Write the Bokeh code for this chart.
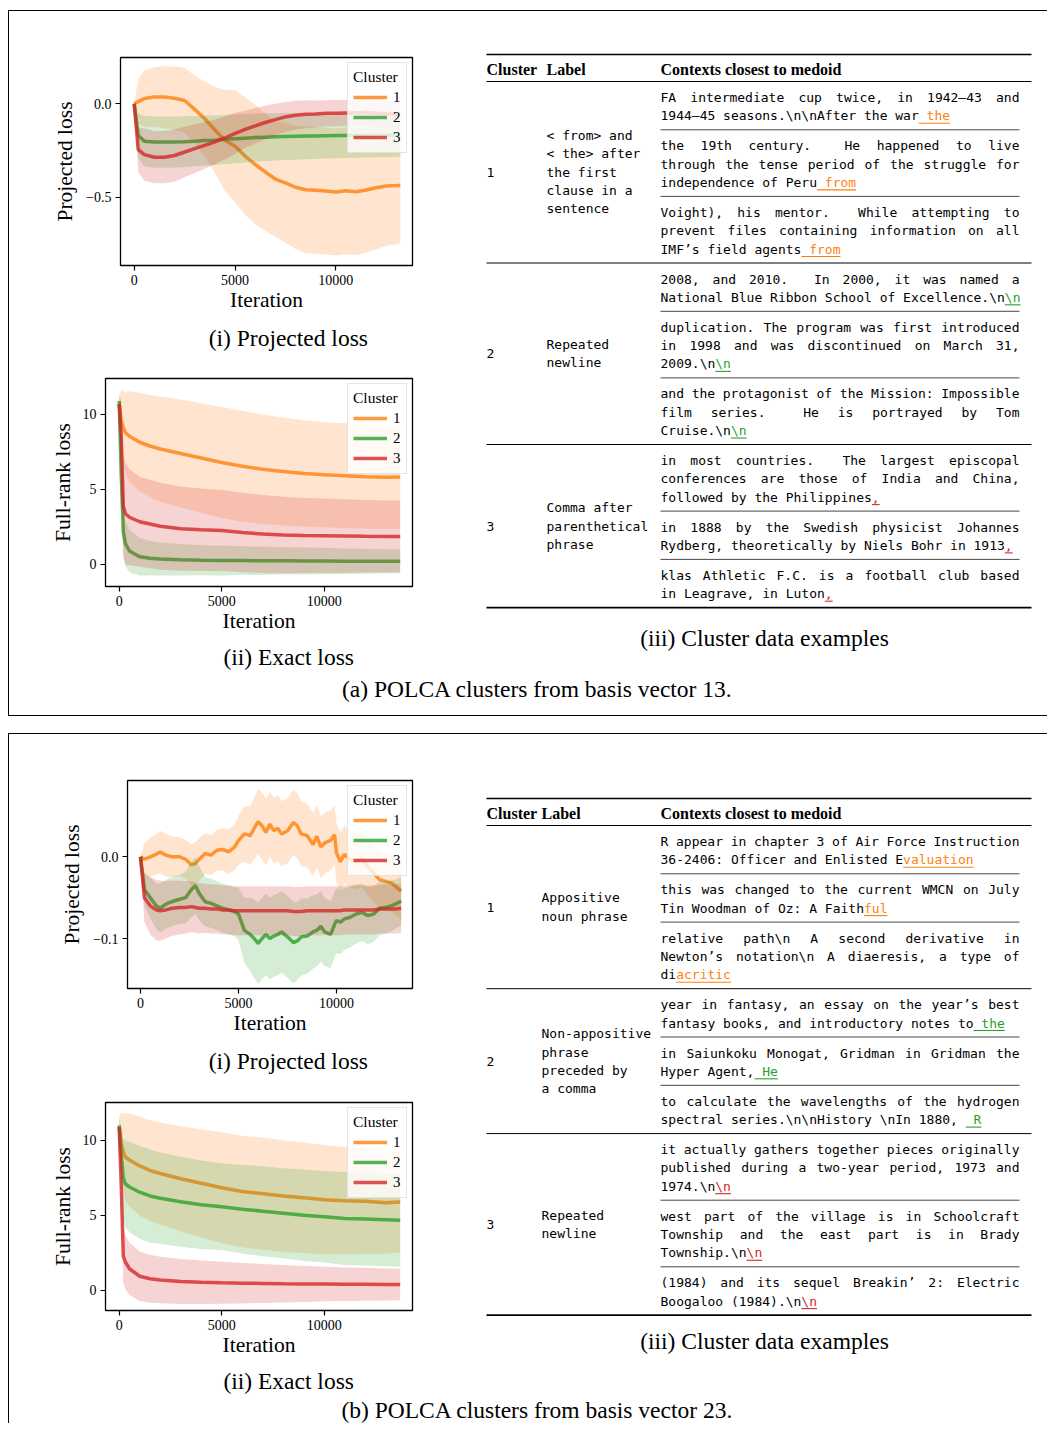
import numpy as np
from bokeh.plotting import figure
from bokeh.models import Range1d, FixedTicker, Legend, LegendItem, Spacer, ColumnDataSource
from bokeh.layouts import column, row
from bokeh.embed import file_html
from bokeh.resources import INLINE
from bokeh.core.properties import value

SERIF = "Liberation Serif"
MONO = "DejaVu Sans Mono"
CLUSTERS = ["1", "2", "3"]
COLORS = ["#ff7f0e", "#2ca02c", "#d62728"]

# ---------------- (a) basis vector 13 : projected loss ----------------
A1_ITER = [0, 200, 500, 1000, 1500, 2000, 2500, 3000, 3500, 4000,
           4500, 5000, 5500, 6000, 6500, 7000, 7500, 8000, 8500, 9000,
           9500, 10000, 10500, 11000, 11500, 12000, 12500, 13000, 13200]
A1_MEAN_1 = [0.0, 0.012, 0.028, 0.036, 0.036, 0.03, 0.018, -0.03, -0.08, -0.14,
             -0.195, -0.227, -0.28, -0.325, -0.365, -0.403, -0.423, -0.447, -0.46, -0.463,
             -0.467, -0.472, -0.466, -0.471, -0.462, -0.45, -0.44, -0.438, -0.437]
A1_SPREAD_1 = [0.0, 0.12, 0.15, 0.16, 0.165, 0.17, 0.175, 0.18, 0.2, 0.23,
               0.27, 0.3, 0.315, 0.32, 0.315, 0.31, 0.32, 0.33, 0.34, 0.34,
               0.34, 0.34, 0.34, 0.34, 0.335, 0.33, 0.32, 0.315, 0.31]
A1_MEAN_2 = [0.0, -0.17, -0.2, -0.205, -0.205, -0.205, -0.203, -0.2, -0.197, -0.195,
             -0.19, -0.187, -0.184, -0.181, -0.179, -0.177, -0.175, -0.174, -0.173, -0.172,
             -0.171, -0.17, -0.17, -0.17, -0.17, -0.169, -0.169, -0.169, -0.169]
A1_SPREAD_2 = [0.0, 0.12, 0.135, 0.137, 0.137, 0.137, 0.136, 0.135, 0.134, 0.133,
               0.132, 0.131, 0.13, 0.129, 0.128, 0.127, 0.126, 0.125, 0.124, 0.123,
               0.122, 0.121, 0.12, 0.119, 0.118, 0.117, 0.116, 0.115, 0.115]
A1_MEAN_3 = [0.0, -0.245, -0.272, -0.286, -0.286, -0.277, -0.258, -0.24, -0.223, -0.204,
             -0.183, -0.158, -0.137, -0.118, -0.1, -0.085, -0.07, -0.061, -0.056, -0.054,
             -0.051, -0.05, -0.049, -0.048, -0.047, -0.05, -0.053, -0.056, -0.057]
A1_SPREAD_3 = [0.0, 0.12, 0.14, 0.14, 0.14, 0.14, 0.135, 0.13, 0.125, 0.12,
               0.115, 0.11, 0.1, 0.095, 0.09, 0.085, 0.08, 0.078, 0.075, 0.072,
               0.07, 0.07, 0.07, 0.07, 0.07, 0.07, 0.07, 0.07, 0.07]

# ---------------- (a) basis vector 13 : exact loss ----------------
A2_ITER = [0, 100, 200, 300, 500, 1000, 1500, 2000, 3000, 4000,
           5000, 6000, 7000, 8000, 9000, 10000, 11000, 12000, 13000, 13700]
A2_MEAN_1 = [10.7, 9.6, 9.1, 8.8, 8.55, 8.15, 7.9, 7.7, 7.4, 7.1,
             6.8, 6.55, 6.35, 6.2, 6.06, 5.98, 5.92, 5.85, 5.82, 5.83]
A2_SPREAD_1 = [0.6, 2.0, 2.5, 2.7, 3.0, 3.3, 3.4, 3.5, 3.6, 3.65,
               3.7, 3.7, 3.65, 3.6, 3.55, 3.5, 3.5, 3.45, 3.45, 3.45]
A2_MEAN_2 = [10.9, 6.0, 2.2, 1.4, 0.9, 0.52, 0.42, 0.36, 0.31, 0.28,
             0.27, 0.26, 0.25, 0.25, 0.24, 0.23, 0.22, 0.22, 0.22, 0.22]
A2_SPREAD_2 = [0.3, 1.5, 1.6, 1.5, 1.4, 1.25, 1.15, 1.1, 1.05, 1.0,
               1.0, 0.95, 0.95, 0.9, 0.9, 0.88, 0.85, 0.83, 0.8, 0.8]
A2_MEAN_3 = [10.7, 8.5, 3.9, 3.4, 3.15, 2.85, 2.7, 2.55, 2.38, 2.32,
             2.27, 2.13, 2.03, 1.97, 1.93, 1.92, 1.9, 1.88, 1.87, 1.87]
A2_SPREAD_3 = [0.5, 2.5, 3.4, 3.4, 3.2, 3.0, 2.95, 2.9, 2.8, 2.75,
               2.7, 2.65, 2.6, 2.55, 2.5, 2.48, 2.45, 2.42, 2.4, 2.4]

# ---------------- (b) basis vector 23 : projected loss ----------------
B1_ITER = [0, 200, 500, 800, 1000, 1300, 1600, 2000, 2300, 2600,
           2800, 3000, 3300, 3600, 3900, 4200, 4500, 4800, 5000, 5300,
           5600, 5800, 6000, 6200, 6400, 6600, 6800, 7000, 7200, 7500,
           7800, 8000, 8200, 8500, 8800, 9000, 9200, 9400, 9700, 9900,
           10000, 10200, 10400, 10700, 11000, 11300, 11600, 11900, 12200, 12500,
           12800, 13000, 13300]
B1_MEAN_1 = [0.0, -0.003, 0.0, 0.003, 0.006, 0.002, 0.0, 0.0, -0.003, -0.01,
             -0.008, -0.003, 0.004, 0.002, 0.008, 0.009, 0.006, 0.012, 0.02, 0.028,
             0.026, 0.035, 0.043, 0.038, 0.03, 0.04, 0.032, 0.035, 0.028, 0.032,
             0.042, 0.038, 0.028, 0.026, 0.015, 0.025, 0.012, 0.017, 0.02, 0.027,
             0.005, -0.006, 0.003, -0.003, -0.005, -0.002, -0.012, -0.02, -0.028, -0.03,
             -0.032, -0.036, -0.042]
B1_SPREAD_1 = [0.0, 0.02, 0.024, 0.025, 0.026, 0.026, 0.025, 0.024, 0.024, 0.025,
               0.026, 0.026, 0.025, 0.024, 0.025, 0.026, 0.027, 0.028, 0.03, 0.034,
               0.036, 0.038, 0.04, 0.041, 0.041, 0.04, 0.04, 0.04, 0.04, 0.04,
               0.04, 0.04, 0.04, 0.039, 0.039, 0.038, 0.038, 0.037, 0.037, 0.036,
               0.036, 0.036, 0.035, 0.035, 0.035, 0.035, 0.035, 0.035, 0.035, 0.035,
               0.035, 0.035, 0.035]
B1_MEAN_2 = [0.0, -0.04, -0.05, -0.06, -0.063, -0.058, -0.055, -0.052, -0.05, -0.04,
             -0.035, -0.045, -0.055, -0.057, -0.06, -0.063, -0.065, -0.067, -0.07, -0.09,
             -0.095, -0.1, -0.106, -0.1, -0.095, -0.1, -0.097, -0.095, -0.092, -0.098,
             -0.105, -0.103, -0.098, -0.097, -0.092, -0.09, -0.085, -0.092, -0.095, -0.083,
             -0.078, -0.08, -0.076, -0.074, -0.07, -0.068, -0.072, -0.07, -0.063, -0.062,
             -0.06, -0.058, -0.054]
B1_SPREAD_2 = [0.0, 0.02, 0.025, 0.028, 0.03, 0.03, 0.03, 0.03, 0.032, 0.034,
               0.035, 0.033, 0.03, 0.03, 0.03, 0.03, 0.03, 0.03, 0.032, 0.04,
               0.045, 0.048, 0.05, 0.05, 0.05, 0.05, 0.05, 0.05, 0.05, 0.05,
               0.05, 0.048, 0.047, 0.046, 0.045, 0.044, 0.043, 0.042, 0.041, 0.04,
               0.04, 0.039, 0.038, 0.037, 0.036, 0.035, 0.035, 0.034, 0.033, 0.032,
               0.031, 0.03, 0.03]
B1_MEAN_3 = [0.0, -0.05, -0.06, -0.065, -0.066, -0.065, -0.063, -0.062, -0.062, -0.061,
             -0.062, -0.063, -0.063, -0.064, -0.064, -0.065, -0.065, -0.066, -0.066, -0.066,
             -0.066, -0.066, -0.066, -0.066, -0.066, -0.066, -0.066, -0.066, -0.066, -0.066,
             -0.067, -0.067, -0.067, -0.066, -0.066, -0.066, -0.066, -0.066, -0.066, -0.066,
             -0.066, -0.066, -0.065, -0.065, -0.065, -0.065, -0.065, -0.065, -0.064, -0.064,
             -0.064, -0.064, -0.063]
B1_SPREAD_3 = [0.0, 0.03, 0.035, 0.037, 0.037, 0.035, 0.034, 0.033, 0.032, 0.031,
               0.031, 0.031, 0.03, 0.03, 0.03, 0.03, 0.03, 0.03, 0.03, 0.03,
               0.03, 0.03, 0.03, 0.03, 0.03, 0.03, 0.03, 0.03, 0.03, 0.03,
               0.03, 0.03, 0.03, 0.03, 0.03, 0.03, 0.03, 0.03, 0.03, 0.03,
               0.03, 0.03, 0.03, 0.03, 0.03, 0.03, 0.03, 0.03, 0.03, 0.03,
               0.03, 0.03, 0.03]

# ---------------- (b) basis vector 23 : exact loss ----------------
B2_ITER = [0, 100, 200, 300, 500, 1000, 1500, 2000, 3000, 4000,
           5000, 6000, 7000, 8000, 9000, 10000, 11000, 12000, 13000, 13700]
B2_MEAN_1 = [10.9, 9.8, 9.2, 8.9, 8.7, 8.3, 8.0, 7.8, 7.45, 7.15,
             6.85, 6.6, 6.45, 6.3, 6.18, 6.05, 5.98, 5.95, 5.85, 5.9]
B2_SPREAD_1 = [0.6, 2.1, 2.6, 2.9, 3.1, 3.3, 3.35, 3.4, 3.5, 3.6,
               3.7, 3.72, 3.73, 3.72, 3.68, 3.64, 3.58, 3.5, 3.4, 3.35]
B2_MEAN_2 = [11.0, 9.0, 7.5, 7.1, 6.9, 6.55, 6.3, 6.15, 5.92, 5.72,
             5.58, 5.42, 5.28, 5.15, 5.02, 4.92, 4.8, 4.76, 4.72, 4.69]
B2_SPREAD_2 = [0.5, 2.0, 2.6, 2.9, 3.0, 3.1, 3.1, 3.05, 3.0, 2.95,
               2.9, 2.95, 3.0, 3.0, 3.05, 3.05, 3.1, 3.1, 3.1, 3.1]
B2_MEAN_3 = [10.9, 7.0, 2.3, 1.9, 1.45, 0.95, 0.78, 0.7, 0.6, 0.55,
             0.51, 0.49, 0.47, 0.45, 0.44, 0.43, 0.42, 0.41, 0.4, 0.4]
B2_SPREAD_3 = [0.5, 1.5, 1.8, 1.8, 1.75, 1.65, 1.6, 1.55, 1.5, 1.45,
               1.4, 1.35, 1.3, 1.25, 1.2, 1.15, 1.12, 1.1, 1.07, 1.05]

X_TICKS = [0, 5000, 10000]

# ---------------- tables ----------------
TABLE_HEADER = ["Cluster", "Label", "Contexts closest to medoid"]
TABLE_A_NUMS = ["1", "2", "3"]
TABLE_A_LABELS = [["< from> and", "< the> after", "the first", "clause in a", "sentence"],
                  ["Repeated", "newline"],
                  ["Comma after", "parenthetical", "phrase"]]
TABLE_A_CONTEXTS = [
    [(["FA intermediate cup twice, in 1942\u201343 and", "1944\u201345 seasons.\\n\\nAfter the war"], " the"),
     (["the 19th century.  He happened to live", "through the tense period of the struggle for",
       "independence of Peru"], " from"),
     (["Voight), his mentor.  While attempting to", "prevent files containing information on all",
       "IMF\u2019s field agents"], " from")],
    [(["2008, and 2010.  In 2000, it was named a", "National Blue Ribbon School of Excellence.\\n"], "\\n"),
     (["duplication. The program was first introduced", "in 1998 and was discontinued on March 31,",
       "2009.\\n"], "\\n"),
     (["and the protagonist of the Mission: Impossible", "film series.  He is portrayed by Tom",
       "Cruise.\\n"], "\\n")],
    [(["in most countries.  The largest episcopal", "conferences are those of India and China,",
       "followed by the Philippines"], ","),
     (["in 1888 by the Swedish physicist Johannes", "Rydberg, theoretically by Niels Bohr in 1913"], ","),
     (["klas Athletic F.C. is a football club based", "in Leagrave, in Luton"], ",")],
]
TABLE_B_NUMS = ["1", "2", "3"]
TABLE_B_LABELS = [["Appositive", "noun phrase"],
                  ["Non-appositive", "phrase", "preceded by", "a comma"],
                  ["Repeated", "newline"]]
TABLE_B_CONTEXTS = [
    [(["R appear in chapter 3 of Air Force Instruction", "36-2406: Officer and Enlisted E"], "valuation"),
     (["this was changed to the current WMCN on July", "Tin Woodman of Oz: A Faith"], "ful"),
     (["relative path\\n A second derivative in", "Newton\u2019s notation\\n A diaeresis, a type of",
       "di"], "acritic")],
    [(["year in fantasy, an essay on the year\u2019s best", "fantasy books, and introductory notes to"], " the"),
     (["in Saiunkoku Monogat, Gridman in Gridman the", "Hyper Agent,"], " He"),
     (["to calculate the wavelengths of the hydrogen", "spectral series.\\n\\nHistory \\nIn 1880, "], " R")],
    [(["it actually gathers together pieces originally", "published during a two-year period, 1973 and",
       "1974.\\n"], "\\n"),
     (["west part of the village is in Schoolcraft", "Township and the east part is in Brady",
       "Township.\\n"], "\\n"),
     (["(1984) and its sequel Breakin\u2019 2: Electric", "Boogaloo (1984).\\n"], "\\n")],
]

CAPTIONS = ["(i) Projected loss", "(ii) Exact loss", "(iii) Cluster data examples",
            "(a) POLCA clusters from basis vector 13.", "(b) POLCA clusters from basis vector 23."]


def loss_fig(width, height, mbl, mbt, fw, fh, xr, yr, yticks, ylabels, ylabel,
             iters, means, spreads, y_std=5):
    p = figure(width=width, height=height, x_range=Range1d(*xr), y_range=Range1d(*yr),
               toolbar_location=None, output_backend="svg",
               min_border_left=mbl, min_border_top=mbt,
               min_border_right=width - mbl - fw, min_border_bottom=height - mbt - fh)
    p.background_fill_color = "white"
    p.border_fill_color = "white"
    rs = []
    for k in range(3):
        m = np.array(means[k], dtype=float)
        s = np.array(spreads[k], dtype=float)
        src = ColumnDataSource(dict(x=iters, lo=m - s, hi=m + s, m=m))
        p.varea(x="x", y1="lo", y2="hi", source=src, fill_color=COLORS[k], fill_alpha=0.2)
        rs.append(p.line(x="x", y="m", source=src, line_color=COLORS[k],
                         line_width=3.5, line_alpha=0.8))
    p.grid.visible = False
    p.outline_line_color = "black"
    p.outline_line_width = 1.3
    p.outline_line_alpha = 1.0
    p.xaxis.ticker = FixedTicker(ticks=X_TICKS)
    p.yaxis.ticker = FixedTicker(ticks=yticks)
    p.yaxis.major_label_overrides = dict(zip(yticks, ylabels))
    for ax in (p.xaxis[0], p.yaxis[0]):
        ax.axis_line_color = None
        ax.major_tick_line_color = "black"
        ax.major_tick_line_width = 1.2
        ax.major_tick_out = 5
        ax.major_tick_in = 0
        ax.minor_tick_line_color = None
        ax.major_label_text_font = SERIF
        ax.major_label_text_font_size = "14px"
        ax.major_label_text_color = "black"
        ax.major_label_standoff = 4
        ax.axis_label_text_font = SERIF
        ax.axis_label_text_font_size = "21.5px"
        ax.axis_label_text_font_style = "normal"
        ax.axis_label_text_color = "black"
    p.xaxis.axis_label = "Iteration"
    p.xaxis.axis_label_standoff = 0
    p.yaxis.axis_label = ylabel
    p.yaxis.axis_label_standoff = y_std
    legend = Legend(items=[LegendItem(label=CLUSTERS[k], renderers=[rs[k]]) for k in range(3)],
                    location="top_right", title="Cluster")
    legend.title_text_font = SERIF
    legend.title_text_font_size = "15.5px"
    legend.title_text_font_style = "normal"
    legend.title_text_color = "black"
    legend.title_standoff = 1
    legend.label_text_font = SERIF
    legend.label_text_font_size = "15px"
    legend.label_text_color = "black"
    legend.glyph_width = 34
    legend.glyph_height = 20
    legend.label_height = 20
    legend.label_width = 8
    legend.label_standoff = 6
    legend.spacing = 0
    legend.padding = 5
    legend.margin = 5
    legend.border_line_color = "#cccccc"
    legend.border_line_width = 1
    legend.background_fill_alpha = 0.8
    p.add_layout(legend)
    return p


def canvas(w, h):
    p = figure(width=w, height=h, x_range=Range1d(0, w), y_range=Range1d(h, 0),
               toolbar_location=None, output_backend="svg", min_border=0,
               x_axis_type=None, y_axis_type=None)
    p.outline_line_color = None
    p.grid.visible = False
    p.background_fill_color = "white"
    p.border_fill_color = "white"
    return p


def caption_fig(w, h, x, y, s):
    p = canvas(w, h)
    p.text(x=[x], y=[y], text=[s], text_font=value(SERIF), text_font_size="23.5px",
           text_align="center", text_baseline="middle", text_color="black")
    return p


def table_fig(ox, oy, w, h, header_rule, label_x, nums, labels, contexts, caption_y):
    p = canvas(w, h)
    X_NUM, X_CTX, X_END, X_L, X_R = 486, 660, 1019, 486, 1031
    CW = 13 * 0.602
    LH, FIRST, BLK = 18.3, 16.0, 48.3
    tx, ty, tt, tc = [], [], [], []

    def put(x, y, s, c="black"):
        tx.append(x - ox); ty.append(y - oy); tt.append(s); tc.append(c)

    rules = {"thick": [], "mid": [], "thin": []}

    def rule(x0, x1, y, kind):
        rules[kind].append((x0 - ox, x1 - ox, y - oy))

    ux0, ux1, uy, uc = [], [], [], []
    rule(X_L, X_R, header_rule - 27, "thick")
    rule(X_L, X_R, header_rule, "mid")
    y = header_rule
    for r in range(len(nums)):
        row_top = y
        ctxs = contexts[r]
        for ci, (lines, tok) in enumerate(ctxs):
            n = len(lines)
            for li, line in enumerate(lines):
                ly = y + FIRST + li * LH
                words = line.split(" ")
                if li < n - 1 and len(words) > 1:
                    total = sum(len(wd) for wd in words) * CW
                    gap = (X_END - X_CTX - total) / (len(words) - 1)
                    x = X_CTX
                    for wd in words:
                        if wd:
                            put(x, ly, wd)
                        x += len(wd) * CW + gap
                else:
                    x = X_CTX
                    for wd in words:
                        if wd:
                            put(x, ly, wd)
                        x += (len(wd) + 1) * CW
            ly = y + FIRST + (n - 1) * LH
            x0 = X_CTX + len(lines[-1]) * CW
            lead = len(tok) - len(tok.lstrip(" "))
            put(x0 + lead * CW, ly, tok.lstrip(" "), COLORS[r])
            ux0.append(x0 - ox); ux1.append(x0 + len(tok) * CW - ox)
            uy.append(ly + 7.5 - oy); uc.append(COLORS[r])
            y += BLK + (n - 2) * LH
            if ci < len(ctxs) - 1:
                rule(X_CTX, X_END, y, "thin")
        mid = (row_top + y) / 2
        put(X_NUM, mid, nums[r])
        labs = labels[r]
        for i, s in enumerate(labs):
            put(label_x, mid + (i - (len(labs) - 1) / 2) * LH, s)
        rule(X_L, X_R, y, "thick" if r == len(nums) - 1 else "mid")

    for kind, lw, col in (("thick", 1.7, "black"), ("mid", 1.0, "black"), ("thin", 0.9, "#333333")):
        segs = rules[kind]
        p.segment(x0=[s[0] for s in segs], x1=[s[1] for s in segs],
                  y0=[s[2] for s in segs], y1=[s[2] for s in segs],
                  line_width=lw, line_color=col)
    p.segment(x0=ux0, x1=ux1, y0=uy, y1=uy, line_color=uc, line_width=1.1)
    src = ColumnDataSource(dict(x=tx, y=ty, t=tt, c=tc))
    p.text(x="x", y="y", text="t", text_color="c", source=src, text_font=value(MONO),
           text_font_size="13px", text_baseline="middle", text_align="left")
    hy = header_rule - 12.5 - oy
    p.text(x=[X_NUM - ox, label_x - ox, X_CTX - ox], y=[hy, hy, hy], text=TABLE_HEADER,
           text_font=value(SERIF), text_font_style="bold", text_font_size="16px",
           text_baseline="middle", text_align="left", text_color="black")
    p.text(x=[764 - ox], y=[caption_y - oy], text=[CAPTIONS[2]], text_font=value(SERIF),
           text_font_size="23.5px", text_align="center", text_baseline="middle", text_color="black")
    return p


INNER_W = 1038
TABLE_W = INNER_W - 419

# ---------------- panel (a) ----------------
figA1 = loss_fig(404, 311, 96, 46, 292, 208, (-680, 13804), (-0.866, 0.248),
                 [-0.5, 0], ["\u22120.5", "0.0"], "Projected loss", A1_ITER,
                 [A1_MEAN_1, A1_MEAN_2, A1_MEAN_3], [A1_SPREAD_1, A1_SPREAD_2, A1_SPREAD_3], 6)
capA1 = caption_fig(419, 35, 249.5, 15, CAPTIONS[0])
figA2 = loss_fig(419, 286, 96, 21, 307, 208, (-668, 14300), (-1.467, 12.4),
                 [0, 5, 10], ["0", "5", "10"], "Full-rank loss", A2_ITER,
                 [A2_MEAN_1, A2_MEAN_2, A2_MEAN_3], [A2_SPREAD_1, A2_SPREAD_2, A2_SPREAD_3], 5)
capA2 = caption_fig(419, 29, 250, 13, CAPTIONS[1])
tableA = table_fig(428, 11, TABLE_W, 661, 81, 546, TABLE_A_NUMS, TABLE_A_LABELS, TABLE_A_CONTEXTS, 637)
capA = caption_fig(INNER_W, 43, 528, 16, CAPTIONS[3])
leftA = column(row(Spacer(width=15, height=311), figA1), capA1, figA2, capA2)
panelA = column(row(leftA, tableA), capA,
                styles={"border-left": "1px solid black", "border-top": "1px solid black",
                        "border-bottom": "1px solid black"})

# ---------------- panel (b) ----------------
figB1 = loss_fig(397, 311, 96, 46, 285, 208, (-663, 13878), (-0.1612, 0.0934),
                 [-0.1, 0], ["\u22120.1", "0.0"], "Projected loss", B1_ITER,
                 [B1_MEAN_1, B1_MEAN_2, B1_MEAN_3], [B1_SPREAD_1, B1_SPREAD_2, B1_SPREAD_3], 6)
capB1 = caption_fig(419, 35, 249.5, 15, CAPTIONS[0])
figB2 = loss_fig(419, 287, 96, 22, 307, 208, (-668, 14300), (-1.333, 12.53),
                 [0, 5, 10], ["0", "5", "10"], "Full-rank loss", B2_ITER,
                 [B2_MEAN_1, B2_MEAN_2, B2_MEAN_3], [B2_SPREAD_1, B2_SPREAD_2, B2_SPREAD_3], 5)
capB2 = caption_fig(419, 27, 250, 13, CAPTIONS[1])
tableB = table_fig(428, 734, TABLE_W, 660, 825, 541, TABLE_B_NUMS, TABLE_B_LABELS, TABLE_B_CONTEXTS, 1340)
capB = caption_fig(INNER_W, 29, 528, 15, CAPTIONS[4])
leftB = column(row(Spacer(width=22, height=311), figB1), capB1, figB2, capB2)
panelB = column(row(leftB, tableB), capB,
                styles={"border-left": "1px solid black", "border-top": "1px solid black"})

root = row(Spacer(width=8, height=10),
           column(Spacer(width=INNER_W + 1, height=10), panelA,
                  Spacer(width=INNER_W + 1, height=17), panelB))

with open("out.html", "w") as f:
    f.write(file_html(root, INLINE))
